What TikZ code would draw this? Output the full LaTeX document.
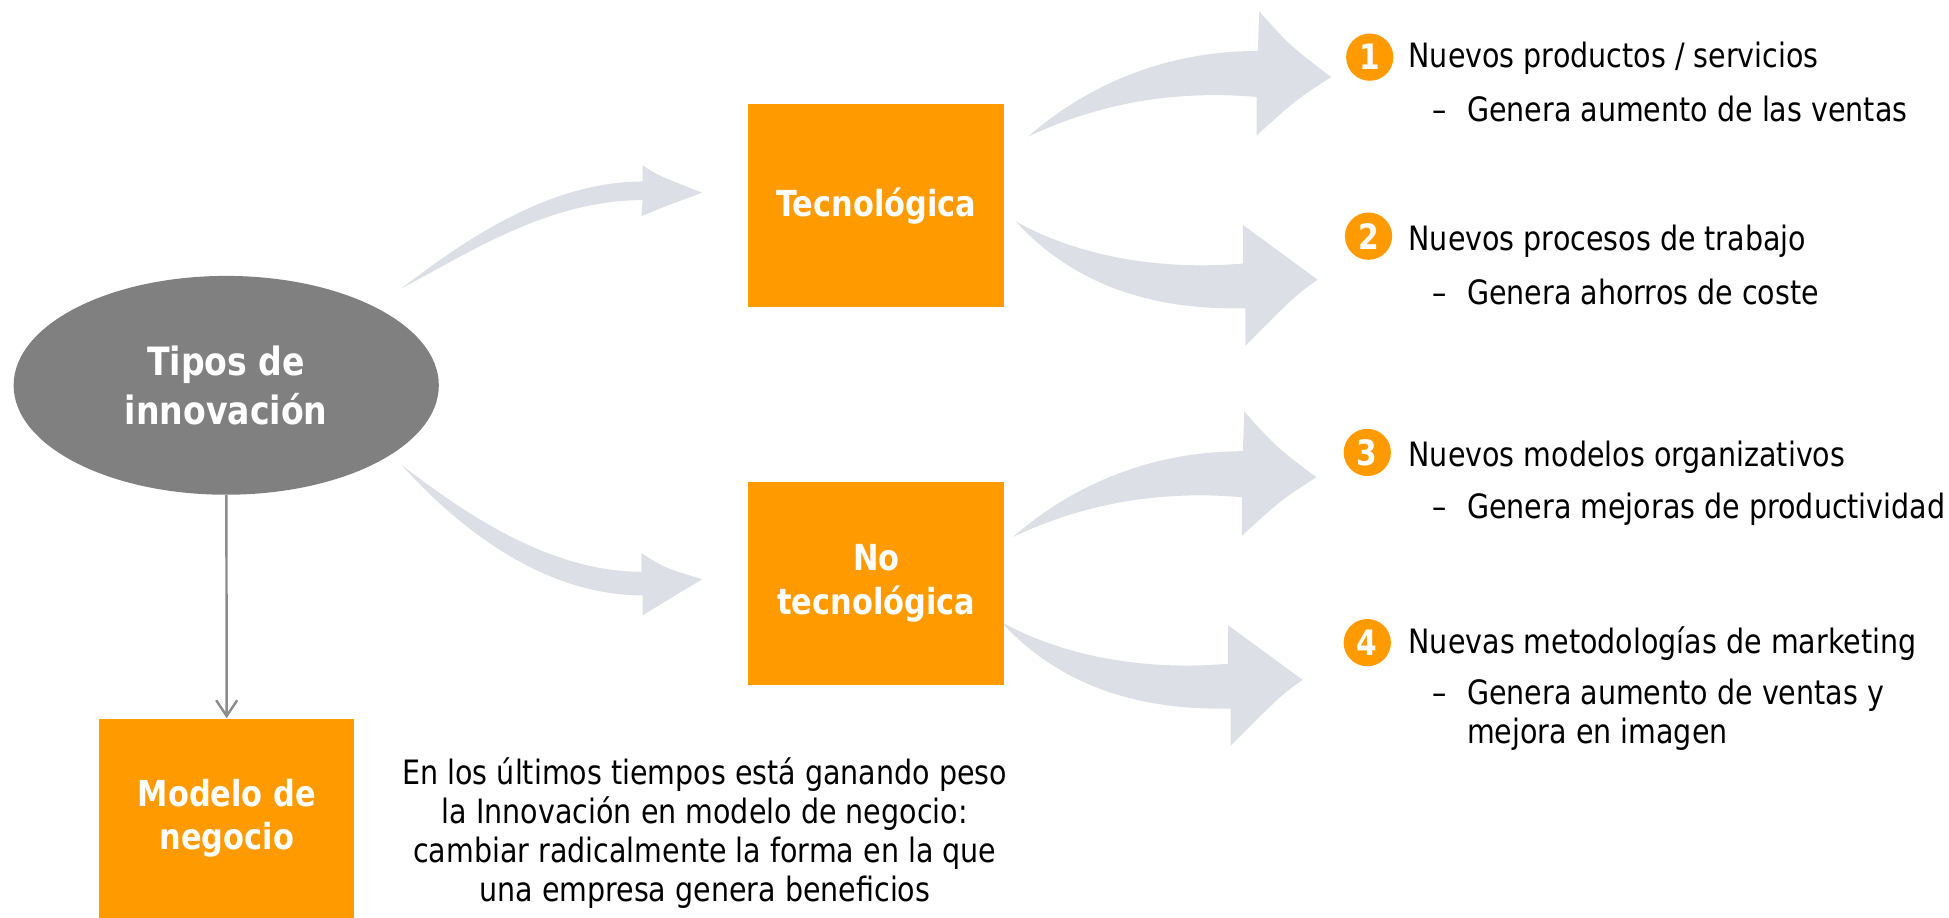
\documentclass[tikz,border=0pt]{standalone}
\usepackage{fontspec}
\setmainfont{DejaVu Sans}[FakeStretch=0.85]
\usetikzlibrary{shapes.geometric,arrows.meta,positioning}

\definecolor{naranja}{RGB}{255,155,0}
\definecolor{grisflecha}{RGB}{220,224,230}
\definecolor{grisovalo}{RGB}{128,128,128}
\definecolor{grislinea}{RGB}{140,140,140}

\tikzset{
  caja/.style={fill=naranja, text=white, font=\bfseries\fontsize{20.5}{25}\selectfont,
    align=center, inner sep=0pt, minimum width=5.15cm, minimum height=4.08cm},
  numero/.style={circle, fill=naranja, text=white, font=\bfseries\fontsize{20}{20}\selectfont,
    inner sep=0pt, minimum size=0.95cm},
  texto/.style={inner sep=0pt, anchor=west, font=\fontsize{19.2}{22.3}\selectfont},
  flecha/.style={fill=grisflecha},
  conector/.style={draw=grislinea, line width=1.4pt, -{Straight Barb[length=9pt,width=12pt]}},
}

\begin{document}
\begin{tikzpicture}[x=0.025cm,y=-0.025cm]
\useasboundingbox (0,0) rectangle (1568,738.5);

  % Flechas curvas desde el ovalo
\fill[flecha] (323,232) .. controls (370,196) and (440,146) .. (517,146) -- (517,133)
  .. controls (529,141) .. (565,155) .. controls (535,166) .. (516,174) -- (517,161)
  .. controls (440,161) and (375,205) .. (323,232) -- cycle;
\fill[flecha] (323,374) .. controls (370,410) and (440,460) .. (516,460) -- (516,445)
  .. controls (535,457) .. (565,466) .. controls (540,481) .. (517,495) -- (517,479)
  .. controls (430,479) and (360,415) .. (323,374) -- cycle;

  % Flechas curvas hacia los resultados
\foreach \dx/\dy in {0/0,-12/322}{
  \begin{scope}[shift={(\dx,\dy)}]
  \fill[flecha] (827,110) .. controls (868,74) and (930,41) .. (1012,41) -- (1013,9)
    .. controls (1038,37) .. (1071,62) .. controls (1043,80) .. (1011,109) -- (1011,78)
    .. controls (940,72) and (880,85) .. (827,110) -- cycle;
  \fill[flecha] (817,178) .. controls (865,205) and (930,218) .. (1000,212) -- (1000,181)
    .. controls (1030,203) .. (1060,225) .. controls (1043,237) .. (1002,278) -- (1002,248)
    .. controls (920,250) and (860,225) .. (817,178) -- cycle;
  \end{scope}
}

  % Nodos
\node[ellipse, fill=grisovalo, text=white, inner sep=0pt, minimum width=8.55cm,
  minimum height=4.4cm, align=center, font=\bfseries\fontsize{22.3}{28}\selectfont]
  (tipos) at (182,310) {Tipos de\\innovación};
\node[caja] (tec) at (705,165.5) {Tecnológica};
\node[caja] (notec) at (705,469.5) {No\\tecnológica};
\node[caja, minimum width=5.125cm, minimum height=4.01cm] (modelo) at (182.5,658.3) {Modelo de\\negocio};
\draw[conector] (tipos) -- (modelo);

\node[texto, anchor=center, align=center] (nota) at (567,670)
  {En los últimos tiempos está ganando peso\\la Innovación en modelo de negocio:\\cambiar radicalmente la forma en la que\\una empresa genera beneficios};

  % Resultados
\node[numero] (n1) at (1102,46) {1};
\node[numero] (n2) at (1101,190) {2};
\node[numero] (n3) at (1100,364) {3};
\node[numero] (n4) at (1100,517) {4};

\node[texto] (r1) at (1133,47) {Nuevos productos / servicios};
\node[texto] (g1) at (1152,88) {\makebox[0.7cm][l]{–}Genera aumento de las ventas};
\node[texto] (r2) at (1133,194) {Nuevos procesos de trabajo};
\node[texto] (g2) at (1152,235) {\makebox[0.7cm][l]{–}Genera ahorros de coste};
\node[texto] (r3) at (1133,368) {Nuevos modelos organizativos};
\node[texto] (g3) at (1152,410) {\makebox[0.7cm][l]{–}Genera mejoras de productividad};
\node[texto] (r4) at (1133,518) {Nuevas metodologías de marketing};
\node[texto, align=left] (g4) at (1152,575)
  {\makebox[0.7cm][l]{–}Genera aumento de ventas y\\\hspace*{0.7cm}mejora en imagen};
\end{tikzpicture}
\end{document}
